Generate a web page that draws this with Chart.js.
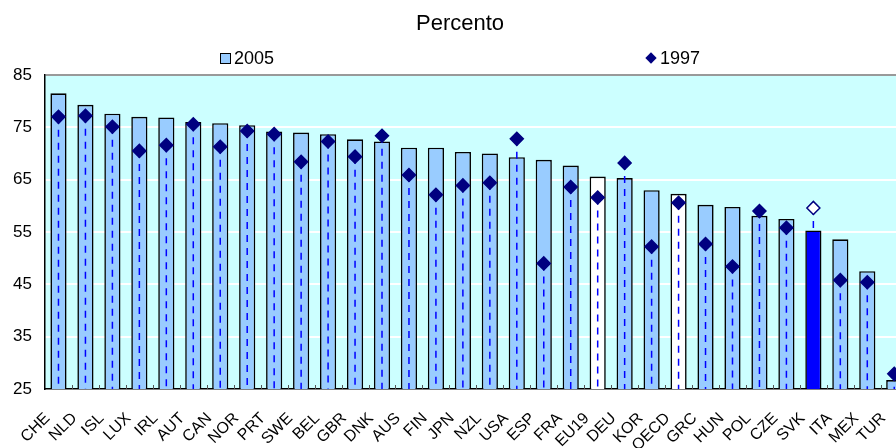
<!DOCTYPE html>
<html lang="it">
<head>
  <meta charset="UTF-8">
  <title>Percento</title>
  <script src="https://cdn.jsdelivr.net/npm/chart.js"></script>
  <style>
    body {
      margin: 0;
      overflow: hidden;
      background: #fff;
      font-family: 'Liberation Sans', Arial, sans-serif;
    }

    #wrap {
      position: relative;
      width: 920px;
      height: 448px;
    }

    #title {
      position: absolute;
      top: 12px;
      left: 360px;
      width: 200px;
      text-align: center;
      font-size: 22px;
      line-height: 22px;
      color: #000;
    }

    .leg {
      position: absolute;
      top: 49px;
      font-size: 18px;
      line-height: 18px;
      color: #000;
    }

    .box {
      display: inline-block;
      width: 9px;
      height: 9px;
      background: #99ccff;
      border: 1px solid #000;
      margin-right: 3px;
      vertical-align: 0px;
    }

    .dia {
      display: inline-block;
      width: 8px;
      height: 8px;
      background: #000080;
      transform: rotate(45deg);
      margin: 0 5px 2px 2px;
    }
  </style>
</head>
<body>
  <div id="wrap">
    <canvas id="chart"></canvas>
    <div id="title">Percento</div>
    <div class="leg" id="leg2005" style="left:220px"></div>
    <div class="leg" id="leg1997" style="left:645px"></div>
  </div>

  <script>
    const countries = ['CHE', 'NLD', 'ISL', 'LUX', 'IRL', 'AUT', 'CAN', 'NOR', 'PRT', 'SWE', 'BEL',
      'GBR', 'DNK', 'AUS', 'FIN', 'JPN', 'NZL', 'USA', 'ESP', 'FRA', 'EU19', 'DEU', 'KOR', 'OECD',
      'GRC', 'HUN', 'POL', 'CZE', 'SVK', 'ITA', 'MEX', 'TUR'];

    const rate2005 = [81.5, 79.3, 77.6, 77.0, 76.9, 76.0, 75.8, 75.4, 74.2, 74.0, 73.7,
      72.7, 72.3, 71.1, 71.1, 70.3, 70.0, 69.3, 68.8, 67.7, 65.6, 65.3, 63.0, 62.3,
      60.2, 59.8, 58.1, 57.5, 55.3, 53.6, 47.5, 26.7];

    const rate1997 = [77.0, 77.2, 75.1, 70.5, 71.6, 75.6, 71.3, 74.3, 73.7, 68.4, 72.3,
      69.4, 73.4, 65.9, 62.1, 63.9, 64.4, 72.8, 49.0, 63.6, 61.6, 68.2, 52.2, 60.6,
      52.7, 48.4, 59.0, 55.8, 59.6, 45.8, 45.4, 27.9];

    const yTicks = [25, 35, 45, 55, 65, 75, 85];
    const seriesNames = ['2005', '1997'];
    const aggregates = ['EU19', 'OECD'];   // white bars
    const focus = 'SVK';                   // dark blue bar, hollow 1997 marker

    document.getElementById('leg2005').innerHTML = '<span class="box"></span>' + seriesNames[0];
    document.getElementById('leg1997').innerHTML = '<span class="dia"></span>' + seriesNames[1];

    const barColors = countries.map(c => aggregates.includes(c) ? '#ffffff' : (c === focus ? '#0000ff' : '#99ccff'));
    const dotFill = countries.map(c => c === focus ? '#ffffff' : '#000080');

    // light cyan plot background
    const plotBg = {
      id: 'plotBg',
      beforeDraw(chart) {
        const a = chart.chartArea;
        const ctx = chart.ctx;
        ctx.save();
        ctx.fillStyle = '#ccffff';
        ctx.fillRect(a.left, a.top, a.right - a.left, a.bottom - a.top);
        ctx.restore();
      }
    };

    // dashed drop lines from the axis up to each 1997 marker
    const dropLines = {
      id: 'dropLines',
      beforeDatasetDraw(chart, args) {
        if (args.index !== 1) return;
        const ctx = chart.ctx;
        const bottom = chart.scales.y.bottom;
        ctx.save();
        ctx.strokeStyle = '#0000ff';
        ctx.lineWidth = 1.5;
        ctx.setLineDash([7, 6]);
        args.meta.data.forEach(p => {
          ctx.beginPath();
          ctx.moveTo(p.x, p.y);
          ctx.lineTo(p.x, bottom);
          ctx.stroke();
        });
        ctx.restore();
      }
    };

    // small tick marks inside the plot between categories
    const innerTicks = {
      id: 'innerTicks',
      afterDatasetsDraw(chart) {
        const x = chart.scales.x;
        const bottom = chart.chartArea.bottom;
        const ctx = chart.ctx;
        const half = (x.getPixelForValue(1) - x.getPixelForValue(0)) / 2;
        ctx.save();
        ctx.strokeStyle = '#555';
        ctx.lineWidth = 1;
        for (let i = 0; i < countries.length; i++) {
          const px = Math.round(x.getPixelForValue(i) + half) + 0.5;
          ctx.beginPath();
          ctx.moveTo(px, bottom);
          ctx.lineTo(px, bottom - 4);
          ctx.stroke();
        }
        ctx.restore();
      }
    };

    new Chart(document.getElementById('chart'), {
      data: {
        labels: countries,
        datasets: [{
          type: 'bar',
          label: seriesNames[0],
          data: rate2005,
          backgroundColor: barColors,
          borderColor: '#000',
          borderWidth: 1.6,
          barPercentage: 0.6,
          categoryPercentage: 1,
          order: 2
        }, {
          type: 'line',
          label: seriesNames[1],
          data: rate1997,
          showLine: false,
          pointStyle: 'rectRot',
          pointRadius: 6.5,
          pointBackgroundColor: dotFill,
          pointBorderColor: '#000080',
          pointBorderWidth: 1.5,
          order: 1
        }]
      },
      options: {
        responsive: true,
        maintainAspectRatio: false,
        animation: false,
        layout: { padding: { top: 75, right: 11, left: 0, bottom: 0 } },
        plugins: {
          legend: { display: false },
          title: { display: false },
          tooltip: { enabled: false }
        },
        scales: {
          x: {
            grid: { display: false },
            border: { color: '#000', width: 1.5 },
            ticks: {
              autoSkip: false,
              minRotation: 45,
              maxRotation: 45,
              padding: 12,
              labelOffset: -11,
              color: '#000',
              font: { family: "'Liberation Sans', Arial, sans-serif", size: 16 }
            },
            afterFit(scale) { scale.height = 59; }
          },
          y: {
            min: 25,
            max: 85,
            afterBuildTicks(scale) { scale.ticks = yTicks.map(v => ({ value: v })); },
            grid: {
              color: c => (c.tick && c.tick.value === 85) ? '#999999' : '#ffffff',
              lineWidth: 2,
              drawTicks: false
            },
            border: { color: '#000', width: 1.5 },
            ticks: {
              padding: 13,
              color: '#000',
              font: { family: "'Liberation Sans', Arial, sans-serif", size: 17 }
            },
            afterFit(scale) { scale.width = 45; }
          }
        }
      },
      plugins: [plotBg, dropLines, innerTicks]
    });
  </script>
</body>
</html>
